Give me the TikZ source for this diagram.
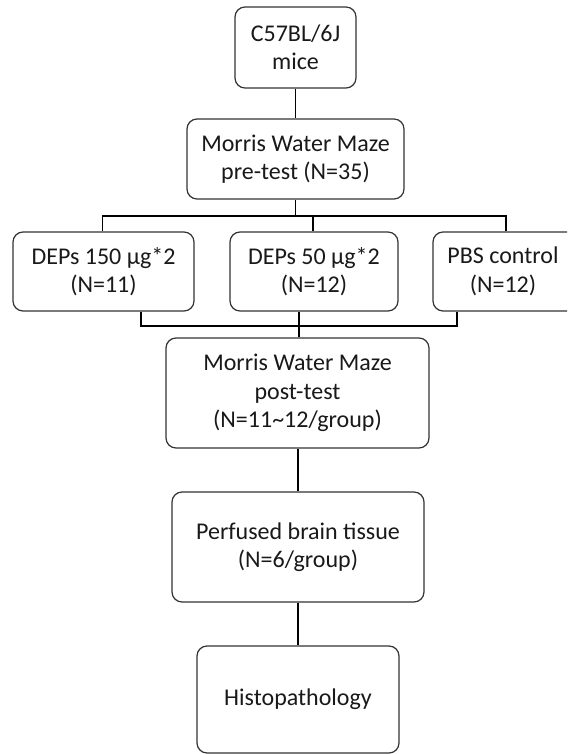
\documentclass[tikz,border=0pt]{standalone}
\usepackage{fontspec}
\setmainfont{Carlito}
\begin{document}
\begin{tikzpicture}[x=1pt,y=-1pt,
  stage/.style={draw=black!80, line width=1.2pt, rounded corners=10pt,
    fill=white, inner sep=0pt, align=center,
    font=\fontsize{24}{28.5}\selectfont, text=black!90},
  link/.style={line width=1.5pt, draw=black}]
\useasboundingbox (0,0) rectangle (567,754);
\clip (0,0) rectangle (567,754);

% stages of the study
\node[stage, minimum width=121pt, minimum height=81pt]  (mice) at (295.5,47.5) {C57BL/6J\\mice};
\node[stage, minimum width=217pt, minimum height=80pt]  (pre)  at (295.5,159)  {Morris Water Maze\\pre-test (N=35)};
\node[stage, minimum width=181pt, minimum height=79pt]  (d150) at (103.5,271.5) {DEPs 150 µg*2\\(N=11)};
\node[stage, minimum width=168pt, minimum height=79pt]  (d50)  at (314,271.5)  {DEPs 50 µg*2\\(N=12)};
\node[stage, minimum width=146pt, minimum height=79pt]  (pbs)  at (506,271.5)  {\hspace*{-6pt}PBS control\\\hspace*{-6pt}(N=12)};
\node[stage, minimum width=263pt, minimum height=110pt] (post) at (297.5,393)  {Morris Water Maze\\post-test\\(N=11\textasciitilde 12/group)};
\node[stage, minimum width=252pt, minimum height=110pt] (perf) at (298,547)    {Perfused brain tissue\\(N=6/group)};
\node[stage, minimum width=202pt, minimum height=107pt] (histo) at (298,699.5) {Histopathology};

% branching bars
\coordinate (split) at (295.5,216);
\coordinate (merge) at (299,326);

\draw[link] (mice) -- (pre);
\draw[link] (pre) -- (split);
\draw[link] (d150.north -| 102.3,0) |- (split) -| (pbs.north);
\draw[link] (split) -| (d50.north -| 313,0);

\draw[link] (d150.south -| 141,0) |- (merge);
\draw[link] (pbs.south -| 457,0) |- (merge);
\draw[link] (d50.south -| merge) -- (post.north -| merge);

\draw[link] (post.south -| 298,0) -- (perf.north -| 298,0);
\draw[link] (perf) -- (histo);
\end{tikzpicture}
\end{document}
